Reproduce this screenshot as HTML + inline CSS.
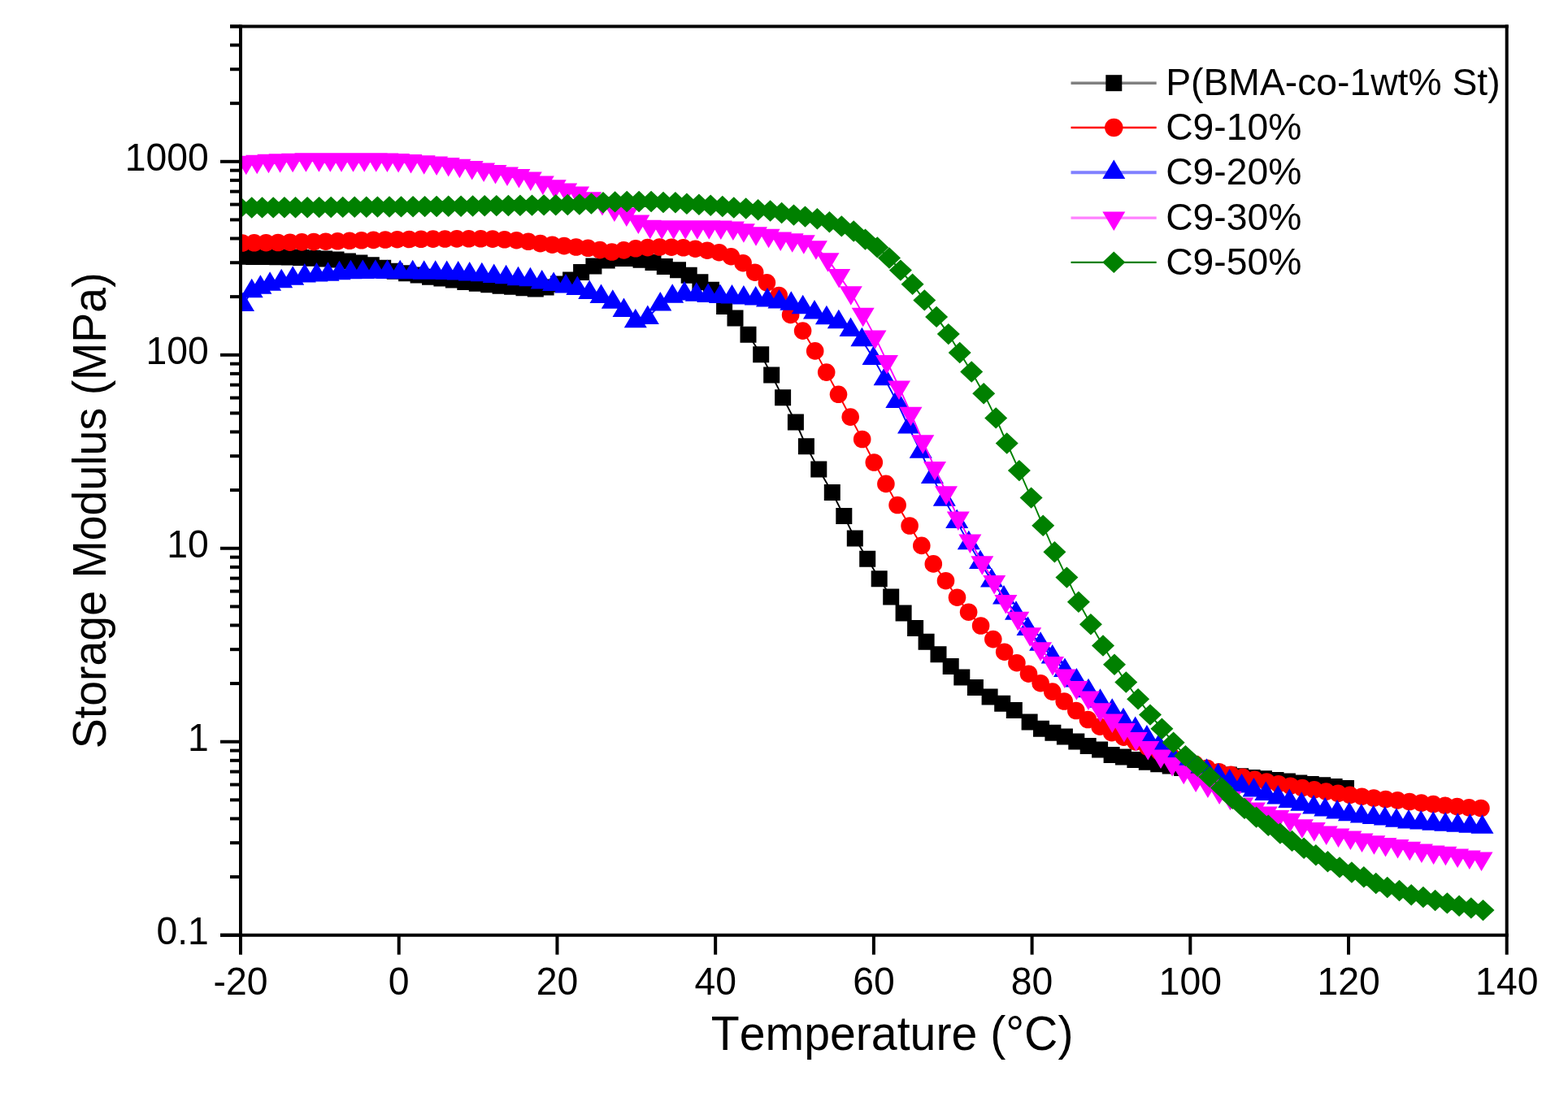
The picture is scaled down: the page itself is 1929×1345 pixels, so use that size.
<!DOCTYPE html>
<html><head><meta charset="utf-8"><title>Storage Modulus vs Temperature</title>
<style>html,body{margin:0;padding:0;background:#fff;overflow:hidden;}svg{display:block;}</style></head>
<body>
<svg width="1929" height="1345" viewBox="0 0 1929 1345">
<rect width="100%" height="100%" fill="#fff"/>
<defs><clipPath id="pc"><rect x="296" y="32.46" width="1557.70" height="1118.26"/></clipPath></defs>
<g clip-path="url(#pc)">
<path d="M298,315.8 312.4,315.9 326.9,316.1 341.3,316.3 355.8,316.6 370.2,317.1 384.6,317.7 399.1,318.4 413.5,319.6 427.9,321.4 442.4,323.6 456.8,326.3 471.2,329.8 485.7,333.7 500.1,336.3 514.6,338.6 529,340.7 543.4,342.6 557.9,344.5 572.3,346.9 586.8,348.7 601.2,350.3 615.6,351.7 630.1,352.8 644.5,354.2 658.8,355.6 671.6,353.6 687,349.5 702.1,344.5 715.1,335 730.4,327.5 746.7,320.5 760.5,318 774.5,318 788.5,319.8 803.5,322.9 817.8,327.9 834,332.3 847.7,338.8 861.4,347.2 875,356.8 891.1,376.9 904.5,391.5 920.5,411.7 936.2,436.2 949.2,461.4 963.1,489.2 978.9,519.5 991.9,549.2 1007.3,577.6 1023.8,606 1038.3,635 1051.8,662.6 1067.2,687.7 1081.7,712.3 1096.2,734.5 1111.6,754.5 1126.1,773 1139.6,789.7 1154.5,805.3 1169.7,819.9 1183.3,833.4 1199.9,845.9 1217.6,857.4 1233.2,865.7 1247.8,874 1266.6,888.6 1281,896.8 1295.4,901.8 1309.9,906.4 1324.3,912.4 1338.7,918.1 1353.1,922.6 1367.6,928.9 1382,931.4 1396.4,934.9 1410.8,937.8 1425.2,940.2 1439.7,942.6 1454.1,945 1468.5,947.3 1482.9,949.4 1497.4,951.5 1511.8,953.4 1526.2,955.2 1540.6,956.9 1555,958.3 1569.5,959.9 1583.9,961.6 1598.3,963.4 1612.7,964.9 1627.2,966.3 1641.6,968 1656,970" fill="none" stroke="#000000" stroke-width="1.9"/>
<path fill="#000000" d="M288,305.8h20v20h-20zM302.4,305.9h20v20h-20zM316.9,306.1h20v20h-20zM331.3,306.3h20v20h-20zM345.8,306.6h20v20h-20zM360.2,307.1h20v20h-20zM374.6,307.7h20v20h-20zM389.1,308.4h20v20h-20zM403.5,309.6h20v20h-20zM417.9,311.4h20v20h-20zM432.4,313.6h20v20h-20zM446.8,316.3h20v20h-20zM461.2,319.8h20v20h-20zM475.7,323.7h20v20h-20zM490.1,326.3h20v20h-20zM504.6,328.6h20v20h-20zM519,330.7h20v20h-20zM533.4,332.6h20v20h-20zM547.9,334.5h20v20h-20zM562.3,336.9h20v20h-20zM576.8,338.7h20v20h-20zM591.2,340.3h20v20h-20zM605.6,341.7h20v20h-20zM620.1,342.8h20v20h-20zM634.5,344.2h20v20h-20zM648.8,345.6h20v20h-20zM661.6,343.6h20v20h-20zM677,339.5h20v20h-20zM692.1,334.5h20v20h-20zM705.1,325h20v20h-20zM720.4,317.5h20v20h-20zM736.7,310.5h20v20h-20zM750.5,308h20v20h-20zM764.5,308h20v20h-20zM778.5,309.8h20v20h-20zM793.5,312.9h20v20h-20zM807.8,317.9h20v20h-20zM824,322.3h20v20h-20zM837.7,328.8h20v20h-20zM851.4,337.2h20v20h-20zM865,346.8h20v20h-20zM881.1,366.9h20v20h-20zM894.5,381.5h20v20h-20zM910.5,401.7h20v20h-20zM926.2,426.2h20v20h-20zM939.2,451.4h20v20h-20zM953.1,479.2h20v20h-20zM968.9,509.5h20v20h-20zM981.9,539.2h20v20h-20zM997.3,567.6h20v20h-20zM1013.8,596h20v20h-20zM1028.3,625h20v20h-20zM1041.8,652.6h20v20h-20zM1057.2,677.7h20v20h-20zM1071.7,702.3h20v20h-20zM1086.2,724.5h20v20h-20zM1101.6,744.5h20v20h-20zM1116.1,763h20v20h-20zM1129.6,779.7h20v20h-20zM1144.5,795.3h20v20h-20zM1159.7,809.9h20v20h-20zM1173.3,823.4h20v20h-20zM1189.9,835.9h20v20h-20zM1207.6,847.4h20v20h-20zM1223.2,855.7h20v20h-20zM1237.8,864h20v20h-20zM1256.6,878.6h20v20h-20zM1271,886.8h20v20h-20zM1285.4,891.8h20v20h-20zM1299.9,896.4h20v20h-20zM1314.3,902.4h20v20h-20zM1328.7,908.1h20v20h-20zM1343.1,912.6h20v20h-20zM1357.6,918.9h20v20h-20zM1372,921.4h20v20h-20zM1386.4,924.9h20v20h-20zM1400.8,927.8h20v20h-20zM1415.2,930.2h20v20h-20zM1429.7,932.6h20v20h-20zM1444.1,935h20v20h-20zM1458.5,937.3h20v20h-20zM1472.9,939.4h20v20h-20zM1487.4,941.5h20v20h-20zM1501.8,943.4h20v20h-20zM1516.2,945.2h20v20h-20zM1530.6,946.9h20v20h-20zM1545,948.3h20v20h-20zM1559.5,949.9h20v20h-20zM1573.9,951.6h20v20h-20zM1588.3,953.4h20v20h-20zM1602.7,954.9h20v20h-20zM1617.2,956.3h20v20h-20zM1631.6,958h20v20h-20zM1646,960h20v20h-20z"/>
<path d="M298,299 312.7,298.8 327.3,298.7 342,298.5 356.7,298.2 371.3,297.9 386,297.6 400.7,297.2 415.3,296.8 430,296.3 444.7,295.8 459.4,295.4 474,295 488.7,294.7 503.4,294.5 518,294.3 532.7,294.1 547.4,294 562,293.9 576.7,293.8 591.4,293.8 606,294.1 620.7,294.8 635.4,295.7 650,297.3 664.7,299.6 679.4,301.2 694,302.6 708.7,304 723.4,305.3 738,307.6 752.7,310 767.4,307.9 782,305.8 796.7,304.6 811.4,304 826.1,304.2 840.7,304.8 855.4,306.2 870.1,308.2 884.7,310.7 899.4,315.7 914.1,323.7 928.7,335.2 943.4,347.8 958.2,363.5 972.6,387.4 987.6,407.1 1002.7,431.9 1016.7,458.1 1031.5,485.3 1046.2,513.1 1060.7,540.5 1075.3,569 1089.9,595.4 1104.1,621.5 1119.1,647 1133.8,671.4 1148.3,693.9 1163.5,714.7 1177.5,735.2 1191.6,753.2 1206.6,770 1221.8,786.6 1235.7,802.2 1250.9,815.7 1265.5,829.2 1280.1,840.7 1294.7,851.1 1309.2,863 1323.8,874.5 1338.4,885.5 1353.1,894.2 1367.7,901.7 1382.4,907.2 1397,912.9 1411.7,919.1 1426.3,924.9 1441,930.3 1455.6,935.5 1470.3,940.4 1484.9,945.2 1499.6,949.7 1514.2,953.3 1528.9,956.4 1543.5,959.3 1558.2,962 1572.8,964.7 1587.5,967.2 1602.1,969.6 1616.8,971.9 1631.4,974.1 1646.1,976.3 1660.7,978.3 1675.4,980.2 1690,982 1704.7,983.5 1719.3,984.9 1734,986.5 1748.6,988.1 1763.3,989.6 1777.9,991.2 1792.6,992.6 1807.2,993.8 1821.9,994.5" fill="none" stroke="#ff0000" stroke-width="1.9"/>
<g fill="#ff0000"><circle cx="298" cy="299" r="10.8"/><circle cx="312.7" cy="298.8" r="10.8"/><circle cx="327.3" cy="298.7" r="10.8"/><circle cx="342" cy="298.5" r="10.8"/><circle cx="356.7" cy="298.2" r="10.8"/><circle cx="371.3" cy="297.9" r="10.8"/><circle cx="386" cy="297.6" r="10.8"/><circle cx="400.7" cy="297.2" r="10.8"/><circle cx="415.3" cy="296.8" r="10.8"/><circle cx="430" cy="296.3" r="10.8"/><circle cx="444.7" cy="295.8" r="10.8"/><circle cx="459.4" cy="295.4" r="10.8"/><circle cx="474" cy="295" r="10.8"/><circle cx="488.7" cy="294.7" r="10.8"/><circle cx="503.4" cy="294.5" r="10.8"/><circle cx="518" cy="294.3" r="10.8"/><circle cx="532.7" cy="294.1" r="10.8"/><circle cx="547.4" cy="294" r="10.8"/><circle cx="562" cy="293.9" r="10.8"/><circle cx="576.7" cy="293.8" r="10.8"/><circle cx="591.4" cy="293.8" r="10.8"/><circle cx="606" cy="294.1" r="10.8"/><circle cx="620.7" cy="294.8" r="10.8"/><circle cx="635.4" cy="295.7" r="10.8"/><circle cx="650" cy="297.3" r="10.8"/><circle cx="664.7" cy="299.6" r="10.8"/><circle cx="679.4" cy="301.2" r="10.8"/><circle cx="694" cy="302.6" r="10.8"/><circle cx="708.7" cy="304" r="10.8"/><circle cx="723.4" cy="305.3" r="10.8"/><circle cx="738" cy="307.6" r="10.8"/><circle cx="752.7" cy="310" r="10.8"/><circle cx="767.4" cy="307.9" r="10.8"/><circle cx="782" cy="305.8" r="10.8"/><circle cx="796.7" cy="304.6" r="10.8"/><circle cx="811.4" cy="304" r="10.8"/><circle cx="826.1" cy="304.2" r="10.8"/><circle cx="840.7" cy="304.8" r="10.8"/><circle cx="855.4" cy="306.2" r="10.8"/><circle cx="870.1" cy="308.2" r="10.8"/><circle cx="884.7" cy="310.7" r="10.8"/><circle cx="899.4" cy="315.7" r="10.8"/><circle cx="914.1" cy="323.7" r="10.8"/><circle cx="928.7" cy="335.2" r="10.8"/><circle cx="943.4" cy="347.8" r="10.8"/><circle cx="958.2" cy="363.5" r="10.8"/><circle cx="972.6" cy="387.4" r="10.8"/><circle cx="987.6" cy="407.1" r="10.8"/><circle cx="1002.7" cy="431.9" r="10.8"/><circle cx="1016.7" cy="458.1" r="10.8"/><circle cx="1031.5" cy="485.3" r="10.8"/><circle cx="1046.2" cy="513.1" r="10.8"/><circle cx="1060.7" cy="540.5" r="10.8"/><circle cx="1075.3" cy="569" r="10.8"/><circle cx="1089.9" cy="595.4" r="10.8"/><circle cx="1104.1" cy="621.5" r="10.8"/><circle cx="1119.1" cy="647" r="10.8"/><circle cx="1133.8" cy="671.4" r="10.8"/><circle cx="1148.3" cy="693.9" r="10.8"/><circle cx="1163.5" cy="714.7" r="10.8"/><circle cx="1177.5" cy="735.2" r="10.8"/><circle cx="1191.6" cy="753.2" r="10.8"/><circle cx="1206.6" cy="770" r="10.8"/><circle cx="1221.8" cy="786.6" r="10.8"/><circle cx="1235.7" cy="802.2" r="10.8"/><circle cx="1250.9" cy="815.7" r="10.8"/><circle cx="1265.5" cy="829.2" r="10.8"/><circle cx="1280.1" cy="840.7" r="10.8"/><circle cx="1294.7" cy="851.1" r="10.8"/><circle cx="1309.2" cy="863" r="10.8"/><circle cx="1323.8" cy="874.5" r="10.8"/><circle cx="1338.4" cy="885.5" r="10.8"/><circle cx="1353.1" cy="894.2" r="10.8"/><circle cx="1367.7" cy="901.7" r="10.8"/><circle cx="1382.4" cy="907.2" r="10.8"/><circle cx="1397" cy="912.9" r="10.8"/><circle cx="1411.7" cy="919.1" r="10.8"/><circle cx="1426.3" cy="924.9" r="10.8"/><circle cx="1441" cy="930.3" r="10.8"/><circle cx="1455.6" cy="935.5" r="10.8"/><circle cx="1470.3" cy="940.4" r="10.8"/><circle cx="1484.9" cy="945.2" r="10.8"/><circle cx="1499.6" cy="949.7" r="10.8"/><circle cx="1514.2" cy="953.3" r="10.8"/><circle cx="1528.9" cy="956.4" r="10.8"/><circle cx="1543.5" cy="959.3" r="10.8"/><circle cx="1558.2" cy="962" r="10.8"/><circle cx="1572.8" cy="964.7" r="10.8"/><circle cx="1587.5" cy="967.2" r="10.8"/><circle cx="1602.1" cy="969.6" r="10.8"/><circle cx="1616.8" cy="971.9" r="10.8"/><circle cx="1631.4" cy="974.1" r="10.8"/><circle cx="1646.1" cy="976.3" r="10.8"/><circle cx="1660.7" cy="978.3" r="10.8"/><circle cx="1675.4" cy="980.2" r="10.8"/><circle cx="1690" cy="982" r="10.8"/><circle cx="1704.7" cy="983.5" r="10.8"/><circle cx="1719.3" cy="984.9" r="10.8"/><circle cx="1734" cy="986.5" r="10.8"/><circle cx="1748.6" cy="988.1" r="10.8"/><circle cx="1763.3" cy="989.6" r="10.8"/><circle cx="1777.9" cy="991.2" r="10.8"/><circle cx="1792.6" cy="992.6" r="10.8"/><circle cx="1807.2" cy="993.8" r="10.8"/><circle cx="1821.9" cy="994.5" r="10.8"/></g>
<path d="M299,375.2 309.7,358.5 320.4,354 332.1,349.9 346.2,346.4 360.2,342.9 374.8,339.7 389.5,338.7 403.5,337.9 417.5,336.4 431.5,335.4 446.3,335.1 461.9,335 476.6,335.3 492.2,335.4 507.7,335.4 521.7,336 535.7,336 549.7,336.2 563.7,336.7 577.7,337.7 592.8,338.5 607.7,340.2 622.6,341.5 637.5,343.5 652.4,344.5 666.7,347.5 681.1,350.1 696,352.6 710.3,355.2 725.2,360.1 739.5,365.3 753.8,371.9 767.5,382.1 781.8,395.5 796.8,391.1 812.3,374.8 827.2,364.9 842,361.8 856.8,363 871.2,364.2 886,365.2 900.5,365.7 914.9,366.6 929.7,367.6 944,369.8 958.5,371.7 973.3,374 987.7,378.5 1002,384.7 1016.9,391.4 1031.8,396.5 1046.5,406.3 1060.4,418.5 1074.5,441 1088.6,466.4 1103.3,494.2 1118,525.8 1132.7,556 1146.9,587.1 1161.8,614.9 1177.2,642.1 1191.8,668.4 1206,692.2 1220,714.8 1235,735.6 1250,755 1264.5,774.3 1280.1,793 1294.7,808.6 1310,825.2 1324.4,837.8 1339,850.4 1353.5,862.9 1368.2,875 1382,886.5 1396.7,897.2 1410.9,907.7 1425.6,918.4 1440.3,928.2 1455.1,936 1469.8,942.9 1484.5,949 1498.6,954.8 1512.7,961.6 1527.6,967.6 1542.5,972.8 1557.3,977.3 1572.2,981.7 1586.3,986.2 1601.2,989.9 1616.1,993.6 1630.2,996.6 1645.1,999.6 1659.9,1002.5 1674.8,1004.8 1689.7,1006.2 1703.8,1007.7 1717.9,1010 1733,1011.5 1748.1,1012.7 1763.2,1013.9 1778.2,1014.9 1793.3,1015.9 1808.4,1016.9 1823.5,1018" fill="none" stroke="#0000ff" stroke-width="1.9"/>
<path fill="#0000ff" d="M299,359.5L313,383H285zM309.7,342.8L323.7,366.3H295.7zM320.4,338.3L334.4,361.8H306.4zM332.1,334.2L346.1,357.7H318.1zM346.2,330.7L360.2,354.2H332.2zM360.2,327.2L374.2,350.7H346.2zM374.8,324.1L388.8,347.6H360.8zM389.5,323L403.5,346.5H375.5zM403.5,322.3L417.5,345.8H389.5zM417.5,320.8L431.5,344.3H403.5zM431.5,319.8L445.5,343.3H417.5zM446.3,319.4L460.3,342.9H432.3zM461.9,319.3L475.9,342.8H447.9zM476.6,319.6L490.6,343.1H462.6zM492.2,319.7L506.2,343.2H478.2zM507.7,319.7L521.7,343.2H493.7zM521.7,320.3L535.7,343.8H507.7zM535.7,320.3L549.7,343.8H521.7zM549.7,320.5L563.7,344H535.7zM563.7,321L577.7,344.5H549.7zM577.7,322.1L591.7,345.6H563.7zM592.8,322.8L606.8,346.3H578.8zM607.7,324.5L621.7,348H593.7zM622.6,325.8L636.6,349.3H608.6zM637.5,327.8L651.5,351.3H623.5zM652.4,328.8L666.4,352.3H638.4zM666.7,331.9L680.7,355.4H652.7zM681.1,334.5L695.1,358H667.1zM696,336.9L710,360.4H682zM710.3,339.5L724.3,363H696.3zM725.2,344.4L739.2,367.9H711.2zM739.5,349.6L753.5,373.1H725.5zM753.8,356.2L767.8,379.7H739.8zM767.5,366.4L781.5,389.9H753.5zM781.8,379.8L795.8,403.3H767.8zM796.8,375.4L810.8,398.9H782.8zM812.3,359.1L826.3,382.6H798.3zM827.2,349.3L841.2,372.8H813.2zM842,346.1L856,369.6H828zM856.8,347.3L870.8,370.8H842.8zM871.2,348.5L885.2,372H857.2zM886,349.5L900,373H872zM900.5,350L914.5,373.5H886.5zM914.9,350.9L928.9,374.4H900.9zM929.7,351.9L943.7,375.4H915.7zM944,354.1L958,377.6H930zM958.5,356L972.5,379.5H944.5zM973.3,358.3L987.3,381.8H959.3zM987.7,362.8L1001.7,386.3H973.7zM1002,369L1016,392.5H988zM1016.9,375.7L1030.9,399.2H1002.9zM1031.8,380.8L1045.8,404.3H1017.8zM1046.5,390.6L1060.5,414.1H1032.5zM1060.4,402.8L1074.4,426.3H1046.4zM1074.5,425.4L1088.5,448.9H1060.5zM1088.6,450.8L1102.6,474.3H1074.6zM1103.3,478.5L1117.3,502H1089.3zM1118,510.1L1132,533.6H1104zM1132.7,540.3L1146.7,563.8H1118.7zM1146.9,571.4L1160.9,594.9H1132.9zM1161.8,599.2L1175.8,622.7H1147.8zM1177.2,626.4L1191.2,649.9H1163.2zM1191.8,652.7L1205.8,676.2H1177.8zM1206,676.5L1220,700H1192zM1220,699.1L1234,722.6H1206zM1235,719.9L1249,743.4H1221zM1250,739.3L1264,762.8H1236zM1264.5,758.6L1278.5,782.1H1250.5zM1280.1,777.3L1294.1,800.8H1266.1zM1294.7,792.9L1308.7,816.4H1280.7zM1310,809.5L1324,833H1296zM1324.4,822.1L1338.4,845.6H1310.4zM1339,834.7L1353,858.2H1325zM1353.5,847.2L1367.5,870.7H1339.5zM1368.2,859.3L1382.2,882.8H1354.2zM1382,870.8L1396,894.3H1368zM1396.7,881.5L1410.7,905H1382.7zM1410.9,892L1424.9,915.5H1396.9zM1425.6,902.8L1439.6,926.3H1411.6zM1440.3,912.5L1454.3,936H1426.3zM1455.1,920.4L1469.1,943.9H1441.1zM1469.8,927.2L1483.8,950.7H1455.8zM1484.5,933.3L1498.5,956.8H1470.5zM1498.6,939.1L1512.6,962.6H1484.6zM1512.7,945.9L1526.7,969.4H1498.7zM1527.6,951.9L1541.6,975.4H1513.6zM1542.5,957.1L1556.5,980.6H1528.5zM1557.3,961.6L1571.3,985.1H1543.3zM1572.2,966L1586.2,989.5H1558.2zM1586.3,970.5L1600.3,994H1572.3zM1601.2,974.2L1615.2,997.7H1587.2zM1616.1,977.9L1630.1,1001.4H1602.1zM1630.2,980.9L1644.2,1004.4H1616.2zM1645.1,983.9L1659.1,1007.4H1631.1zM1659.9,986.8L1673.9,1010.3H1645.9zM1674.8,989.1L1688.8,1012.6H1660.8zM1689.7,990.5L1703.7,1014H1675.7zM1703.8,992L1717.8,1015.5H1689.8zM1717.9,994.3L1731.9,1017.8H1703.9zM1733,995.9L1747,1019.4H1719zM1748.1,997.1L1762.1,1020.6H1734.1zM1763.2,998.2L1777.2,1021.7H1749.2zM1778.2,999.2L1792.2,1022.7H1764.2zM1793.3,1000.2L1807.3,1023.7H1779.3zM1808.4,1001.2L1822.4,1024.7H1794.4zM1823.5,1002.3L1837.5,1025.8H1809.5z"/>
<path d="M290,200.5 302.8,199.5 316.2,198.5 330.4,197.6 344.6,197 360.1,196.5 376.4,196.1 392.4,196 406.3,196 420,196 434.5,196 448.2,196 462.7,196 476.4,196.2 490.1,196.9 505.5,197.9 521.7,199.1 537.1,200.4 551.7,202 565.4,203.6 580.7,205.8 595.1,208.2 609.5,210.8 624,213.3 638.4,215.9 652.8,219.2 667.8,224.4 682.7,229 696.2,233.2 711.1,237.4 726.1,244 741,249.8 755.9,257.3 770.8,263.4 785.3,272.5 799.8,278.5 814.2,279 828.7,279 843.2,279 857.8,279 872.3,279 886.8,279.3 901.9,280.4 914.9,283 930,287.1 945.6,289.5 960.2,293.4 974.7,295 988.8,297 1003.9,304 1018.5,319.1 1032.2,338.8 1046.8,360.1 1061.7,386.6 1076.5,414.4 1091,444.7 1106,476.2 1120.5,508.6 1135.3,543 1150,575.7 1164,606 1178.8,637.4 1193.4,665.4 1208.3,692.1 1223.2,715.9 1237.4,739.7 1252.3,760.5 1267.2,780.1 1280.1,798 1295,815.7 1309.8,831.3 1324.4,845.9 1339,858.4 1353.6,873 1368.3,886.2 1382.9,898 1397.6,908.7 1412.3,919.8 1428,930.2 1442.1,939.8 1456.2,949.5 1471.1,959.2 1485.9,966.4 1500.1,974.2 1513.5,981.6 1528.2,989.2 1542.9,995.2 1557.7,1000.3 1572.4,1004.8 1587.1,1008.6 1601.9,1016.1 1616.8,1019.8 1631.7,1024.2 1646.5,1027.2 1661.4,1030.2 1675.5,1033.2 1690.4,1036.1 1704.5,1038.9 1719.5,1040.9 1734.2,1043.6 1748.9,1046.3 1763.6,1048.3 1778.4,1049.6 1793.1,1052.3 1807.8,1054.3 1822.5,1056.3" fill="none" stroke="#ff00ff" stroke-width="1.9"/>
<path fill="#ff00ff" d="M290,216.2L304,192.7H276zM302.8,215.2L316.8,191.7H288.8zM316.2,214.2L330.2,190.7H302.2zM330.4,213.3L344.4,189.8H316.4zM344.6,212.7L358.6,189.2H330.6zM360.1,212.2L374.1,188.7H346.1zM376.4,211.8L390.4,188.3H362.4zM392.4,211.7L406.4,188.2H378.4zM406.3,211.7L420.3,188.2H392.3zM420,211.7L434,188.2H406zM434.5,211.7L448.5,188.2H420.5zM448.2,211.7L462.2,188.2H434.2zM462.7,211.7L476.7,188.2H448.7zM476.4,211.9L490.4,188.4H462.4zM490.1,212.6L504.1,189.1H476.1zM505.5,213.6L519.5,190.1H491.5zM521.7,214.7L535.7,191.2H507.7zM537.1,216.1L551.1,192.6H523.1zM551.7,217.6L565.7,194.1H537.7zM565.4,219.3L579.4,195.8H551.4zM580.7,221.5L594.7,198H566.7zM595.1,223.9L609.1,200.4H581.1zM609.5,226.5L623.5,203H595.5zM624,229L638,205.5H610zM638.4,231.6L652.4,208.1H624.4zM652.8,234.9L666.8,211.4H638.8zM667.8,240.1L681.8,216.6H653.8zM682.7,244.7L696.7,221.2H668.7zM696.2,248.9L710.2,225.4H682.2zM711.1,253.1L725.1,229.6H697.1zM726.1,259.7L740.1,236.2H712.1zM741,265.5L755,242H727zM755.9,273L769.9,249.5H741.9zM770.8,279.1L784.8,255.6H756.8zM785.3,288.1L799.3,264.6H771.3zM799.8,294.2L813.8,270.7H785.8zM814.2,294.7L828.2,271.2H800.2zM828.7,294.7L842.7,271.2H814.7zM843.2,294.7L857.2,271.2H829.2zM857.8,294.7L871.8,271.2H843.8zM872.3,294.7L886.3,271.2H858.3zM886.8,295L900.8,271.5H872.8zM901.9,296.1L915.9,272.6H887.9zM914.9,298.7L928.9,275.2H900.9zM930,302.8L944,279.3H916zM945.6,305.2L959.6,281.7H931.6zM960.2,309.1L974.2,285.6H946.2zM974.7,310.7L988.7,287.2H960.7zM988.8,312.7L1002.8,289.2H974.8zM1003.9,319.7L1017.9,296.2H989.9zM1018.5,334.8L1032.5,311.3H1004.5zM1032.2,354.4L1046.2,330.9H1018.2zM1046.8,375.7L1060.8,352.2H1032.8zM1061.7,402.3L1075.7,378.8H1047.7zM1076.5,430.1L1090.5,406.6H1062.5zM1091,460.4L1105,436.9H1077zM1106,491.9L1120,468.4H1092zM1120.5,524.3L1134.5,500.8H1106.5zM1135.3,558.7L1149.3,535.2H1121.3zM1150,591.4L1164,567.9H1136zM1164,621.7L1178,598.2H1150zM1178.8,653.1L1192.8,629.6H1164.8zM1193.4,681.1L1207.4,657.6H1179.4zM1208.3,707.8L1222.3,684.3H1194.3zM1223.2,731.6L1237.2,708.1H1209.2zM1237.4,755.4L1251.4,731.9H1223.4zM1252.3,776.2L1266.3,752.7H1238.3zM1267.2,795.8L1281.2,772.3H1253.2zM1280.1,813.7L1294.1,790.2H1266.1zM1295,831.4L1309,807.9H1281zM1309.8,847L1323.8,823.5H1295.8zM1324.4,861.6L1338.4,838.1H1310.4zM1339,874.1L1353,850.6H1325zM1353.6,888.7L1367.6,865.2H1339.6zM1368.3,901.9L1382.3,878.4H1354.3zM1382.9,913.6L1396.9,890.1H1368.9zM1397.6,924.4L1411.6,900.9H1383.6zM1412.3,935.5L1426.3,912H1398.3zM1428,945.9L1442,922.4H1414zM1442.1,955.5L1456.1,932H1428.1zM1456.2,965.2L1470.2,941.7H1442.2zM1471.1,974.9L1485.1,951.4H1457.1zM1485.9,982.1L1499.9,958.6H1471.9zM1500.1,989.9L1514.1,966.4H1486.1zM1513.5,997.3L1527.5,973.8H1499.5zM1528.2,1004.9L1542.2,981.4H1514.2zM1542.9,1010.9L1556.9,987.4H1528.9zM1557.7,1015.9L1571.7,992.4H1543.7zM1572.4,1020.5L1586.4,997H1558.4zM1587.1,1024.3L1601.1,1000.8H1573.1zM1601.9,1031.8L1615.9,1008.3H1587.9zM1616.8,1035.5L1630.8,1012H1602.8zM1631.7,1039.9L1645.7,1016.4H1617.7zM1646.5,1042.9L1660.5,1019.4H1632.5zM1661.4,1045.9L1675.4,1022.4H1647.4zM1675.5,1048.9L1689.5,1025.4H1661.5zM1690.4,1051.8L1704.4,1028.3H1676.4zM1704.5,1054.5L1718.5,1031H1690.5zM1719.5,1056.6L1733.5,1033.1H1705.5zM1734.2,1059.3L1748.2,1035.8H1720.2zM1748.9,1062L1762.9,1038.5H1734.9zM1763.6,1064L1777.6,1040.5H1749.6zM1778.4,1065.3L1792.4,1041.8H1764.4zM1793.1,1068L1807.1,1044.5H1779.1zM1807.8,1070L1821.8,1046.5H1793.8zM1822.5,1072L1836.5,1048.5H1808.5z"/>
<path d="M296,255.5 309.7,255.5 322.5,255.4 336.2,255.4 349.9,255.3 363.5,255.2 378.1,255.2 392.6,255.1 407.2,255 421.7,254.9 436.2,254.8 450.8,254.7 464.4,254.6 479,254.5 493.5,254.4 508.1,254.3 522.6,254.1 537.1,254 551.7,253.8 567.1,253.7 581.6,253.5 596.2,253.3 610.8,253.1 625.4,253 639.9,252.8 654.5,252.6 669.1,252.4 683.7,252.3 698.3,252 712.9,251.5 727.4,250.5 742,249.3 756.6,248.4 771.2,248 786.1,248 801.1,248 816,249 830.9,249.2 844.9,250.8 859.9,251.8 874.2,252.7 888.8,254 902.8,255.5 917.7,256.5 932.6,258.3 947.6,259.5 961.6,262 976.5,264.6 990.5,266.6 1005.4,269.3 1020.4,273.2 1035.3,278.4 1050.2,284.5 1064.5,294.6 1079.3,304.4 1094,317.5 1107.9,332.6 1122.6,349.8 1137.3,369.4 1152.1,389.9 1166.8,411.1 1180.7,434 1195.2,457.5 1210.2,484.2 1225.2,514.4 1238.7,545.5 1253.9,579.1 1268.6,612.6 1283.2,646.8 1297.4,679.3 1312.4,710.6 1326.9,740.8 1341.9,768.2 1357,794.5 1371,817.8 1385.3,839.5 1400.1,860.2 1415,879.6 1429.4,896.7 1443.6,913.8 1458.4,930.1 1473.3,942.8 1488.2,956.1 1503,969.5 1516.4,982.9 1531,994.9 1545.6,1005.6 1560.3,1015.8 1574.9,1025.6 1589.5,1034.9 1604.1,1043.8 1618.8,1052.2 1633.4,1060.2 1648,1067.4 1662.9,1073.5 1677.8,1079.2 1692.7,1087 1706.7,1092 1721.5,1096 1736.2,1101.3 1750.9,1104 1765.6,1108 1780.4,1111.4 1795.1,1114.7 1809.8,1117.4 1824.5,1120.1" fill="none" stroke="#008000" stroke-width="1.9"/>
<path fill="#008000" d="M296,242.3L310,255.5L296,268.7L282,255.5zM309.7,242.3L323.7,255.5L309.7,268.7L295.7,255.5zM322.5,242.2L336.5,255.4L322.5,268.6L308.5,255.4zM336.2,242.2L350.2,255.4L336.2,268.6L322.2,255.4zM349.9,242.1L363.9,255.3L349.9,268.5L335.9,255.3zM363.5,242L377.5,255.2L363.5,268.4L349.5,255.2zM378.1,242L392.1,255.2L378.1,268.4L364.1,255.2zM392.6,241.9L406.6,255.1L392.6,268.3L378.6,255.1zM407.2,241.8L421.2,255L407.2,268.2L393.2,255zM421.7,241.7L435.7,254.9L421.7,268.1L407.7,254.9zM436.2,241.6L450.2,254.8L436.2,268L422.2,254.8zM450.8,241.5L464.8,254.7L450.8,267.9L436.8,254.7zM464.4,241.4L478.4,254.6L464.4,267.8L450.4,254.6zM479,241.3L493,254.5L479,267.7L465,254.5zM493.5,241.2L507.5,254.4L493.5,267.6L479.5,254.4zM508.1,241.1L522.1,254.3L508.1,267.5L494.1,254.3zM522.6,240.9L536.6,254.1L522.6,267.3L508.6,254.1zM537.1,240.8L551.1,254L537.1,267.2L523.1,254zM551.7,240.6L565.7,253.8L551.7,267L537.7,253.8zM567.1,240.5L581.1,253.7L567.1,266.9L553.1,253.7zM581.6,240.3L595.6,253.5L581.6,266.7L567.6,253.5zM596.2,240.1L610.2,253.3L596.2,266.5L582.2,253.3zM610.8,239.9L624.8,253.1L610.8,266.3L596.8,253.1zM625.4,239.8L639.4,253L625.4,266.2L611.4,253zM639.9,239.6L653.9,252.8L639.9,266L625.9,252.8zM654.5,239.4L668.5,252.6L654.5,265.8L640.5,252.6zM669.1,239.2L683.1,252.4L669.1,265.6L655.1,252.4zM683.7,239.1L697.7,252.3L683.7,265.5L669.7,252.3zM698.3,238.8L712.3,252L698.3,265.2L684.3,252zM712.9,238.3L726.9,251.5L712.9,264.7L698.9,251.5zM727.4,237.3L741.4,250.5L727.4,263.7L713.4,250.5zM742,236.1L756,249.3L742,262.5L728,249.3zM756.6,235.2L770.6,248.4L756.6,261.6L742.6,248.4zM771.2,234.8L785.2,248L771.2,261.2L757.2,248zM786.1,234.8L800.1,248L786.1,261.2L772.1,248zM801.1,234.8L815.1,248L801.1,261.2L787.1,248zM816,235.8L830,249L816,262.2L802,249zM830.9,236L844.9,249.2L830.9,262.4L816.9,249.2zM844.9,237.6L858.9,250.8L844.9,264L830.9,250.8zM859.9,238.6L873.9,251.8L859.9,265L845.9,251.8zM874.2,239.5L888.2,252.7L874.2,265.9L860.2,252.7zM888.8,240.8L902.8,254L888.8,267.2L874.8,254zM902.8,242.3L916.8,255.5L902.8,268.7L888.8,255.5zM917.7,243.3L931.7,256.5L917.7,269.7L903.7,256.5zM932.6,245.1L946.6,258.3L932.6,271.5L918.6,258.3zM947.6,246.3L961.6,259.5L947.6,272.7L933.6,259.5zM961.6,248.8L975.6,262L961.6,275.2L947.6,262zM976.5,251.4L990.5,264.6L976.5,277.8L962.5,264.6zM990.5,253.4L1004.5,266.6L990.5,279.8L976.5,266.6zM1005.4,256.1L1019.4,269.3L1005.4,282.5L991.4,269.3zM1020.4,260L1034.4,273.2L1020.4,286.4L1006.4,273.2zM1035.3,265.2L1049.3,278.4L1035.3,291.6L1021.3,278.4zM1050.2,271.3L1064.2,284.5L1050.2,297.7L1036.2,284.5zM1064.5,281.4L1078.5,294.6L1064.5,307.8L1050.5,294.6zM1079.3,291.2L1093.3,304.4L1079.3,317.6L1065.3,304.4zM1094,304.3L1108,317.5L1094,330.7L1080,317.5zM1107.9,319.4L1121.9,332.6L1107.9,345.8L1093.9,332.6zM1122.6,336.6L1136.6,349.8L1122.6,363L1108.6,349.8zM1137.3,356.2L1151.3,369.4L1137.3,382.6L1123.3,369.4zM1152.1,376.7L1166.1,389.9L1152.1,403.1L1138.1,389.9zM1166.8,397.9L1180.8,411.1L1166.8,424.3L1152.8,411.1zM1180.7,420.8L1194.7,434L1180.7,447.2L1166.7,434zM1195.2,444.3L1209.2,457.5L1195.2,470.7L1181.2,457.5zM1210.2,471L1224.2,484.2L1210.2,497.4L1196.2,484.2zM1225.2,501.2L1239.2,514.4L1225.2,527.6L1211.2,514.4zM1238.7,532.3L1252.7,545.5L1238.7,558.7L1224.7,545.5zM1253.9,565.9L1267.9,579.1L1253.9,592.3L1239.9,579.1zM1268.6,599.4L1282.6,612.6L1268.6,625.8L1254.6,612.6zM1283.2,633.6L1297.2,646.8L1283.2,660L1269.2,646.8zM1297.4,666.1L1311.4,679.3L1297.4,692.5L1283.4,679.3zM1312.4,697.4L1326.4,710.6L1312.4,723.8L1298.4,710.6zM1326.9,727.6L1340.9,740.8L1326.9,754L1312.9,740.8zM1341.9,755L1355.9,768.2L1341.9,781.4L1327.9,768.2zM1357,781.3L1371,794.5L1357,807.7L1343,794.5zM1371,804.6L1385,817.8L1371,831L1357,817.8zM1385.3,826.3L1399.3,839.5L1385.3,852.7L1371.3,839.5zM1400.1,847L1414.1,860.2L1400.1,873.4L1386.1,860.2zM1415,866.4L1429,879.6L1415,892.8L1401,879.6zM1429.4,883.5L1443.4,896.7L1429.4,909.9L1415.4,896.7zM1443.6,900.6L1457.6,913.8L1443.6,927L1429.6,913.8zM1458.4,916.9L1472.4,930.1L1458.4,943.3L1444.4,930.1zM1473.3,929.6L1487.3,942.8L1473.3,956L1459.3,942.8zM1488.2,942.9L1502.2,956.1L1488.2,969.3L1474.2,956.1zM1503,956.3L1517,969.5L1503,982.7L1489,969.5zM1516.4,969.7L1530.4,982.9L1516.4,996.1L1502.4,982.9zM1531,981.7L1545,994.9L1531,1008.1L1517,994.9zM1545.6,992.4L1559.6,1005.6L1545.6,1018.8L1531.6,1005.6zM1560.3,1002.6L1574.3,1015.8L1560.3,1029L1546.3,1015.8zM1574.9,1012.4L1588.9,1025.6L1574.9,1038.8L1560.9,1025.6zM1589.5,1021.7L1603.5,1034.9L1589.5,1048.1L1575.5,1034.9zM1604.1,1030.6L1618.1,1043.8L1604.1,1057L1590.1,1043.8zM1618.8,1039L1632.8,1052.2L1618.8,1065.4L1604.8,1052.2zM1633.4,1047L1647.4,1060.2L1633.4,1073.4L1619.4,1060.2zM1648,1054.2L1662,1067.4L1648,1080.6L1634,1067.4zM1662.9,1060.3L1676.9,1073.5L1662.9,1086.7L1648.9,1073.5zM1677.8,1066L1691.8,1079.2L1677.8,1092.4L1663.8,1079.2zM1692.7,1073.8L1706.7,1087L1692.7,1100.2L1678.7,1087zM1706.7,1078.8L1720.7,1092L1706.7,1105.2L1692.7,1092zM1721.5,1082.8L1735.5,1096L1721.5,1109.2L1707.5,1096zM1736.2,1088.1L1750.2,1101.3L1736.2,1114.5L1722.2,1101.3zM1750.9,1090.8L1764.9,1104L1750.9,1117.2L1736.9,1104zM1765.6,1094.8L1779.6,1108L1765.6,1121.2L1751.6,1108zM1780.4,1098.2L1794.4,1111.4L1780.4,1124.6L1766.4,1111.4zM1795.1,1101.5L1809.1,1114.7L1795.1,1127.9L1781.1,1114.7zM1809.8,1104.2L1823.8,1117.4L1809.8,1130.6L1795.8,1117.4zM1824.5,1106.9L1838.5,1120.1L1824.5,1133.3L1810.5,1120.1z"/>
</g>
<g stroke="#000" stroke-width="4.0" fill="none" stroke-linecap="butt">
<path d="M283,32.46H1855.7"/>
<path d="M271,1150.72H1855.7"/>
<path d="M296,30.46V1174.72"/>
<path d="M1853.7,30.46V1174.72"/>
<path d="M490.72,1150.72V1174.72"/>
<path d="M685.44,1150.72V1174.72"/>
<path d="M880.16,1150.72V1174.72"/>
<path d="M1074.88,1150.72V1174.72"/>
<path d="M1269.60,1150.72V1174.72"/>
<path d="M1464.32,1150.72V1174.72"/>
<path d="M1659.04,1150.72V1174.72"/>
<path d="M271,1150.72H296"/>
<path d="M283,1079.08H296"/>
<path d="M283,1037.17H296"/>
<path d="M283,1007.44H296"/>
<path d="M283,984.38H296"/>
<path d="M283,965.54H296"/>
<path d="M283,949.60H296"/>
<path d="M283,935.80H296"/>
<path d="M283,923.63H296"/>
<path d="M271,912.74H296"/>
<path d="M283,841.10H296"/>
<path d="M283,799.19H296"/>
<path d="M283,769.46H296"/>
<path d="M283,746.40H296"/>
<path d="M283,727.56H296"/>
<path d="M283,711.62H296"/>
<path d="M283,697.82H296"/>
<path d="M283,685.65H296"/>
<path d="M271,674.76H296"/>
<path d="M283,603.12H296"/>
<path d="M283,561.21H296"/>
<path d="M283,531.48H296"/>
<path d="M283,508.42H296"/>
<path d="M283,489.58H296"/>
<path d="M283,473.64H296"/>
<path d="M283,459.84H296"/>
<path d="M283,447.67H296"/>
<path d="M271,436.78H296"/>
<path d="M283,365.14H296"/>
<path d="M283,323.23H296"/>
<path d="M283,293.50H296"/>
<path d="M283,270.44H296"/>
<path d="M283,251.60H296"/>
<path d="M283,235.66H296"/>
<path d="M283,221.86H296"/>
<path d="M283,209.69H296"/>
<path d="M271,198.80H296"/>
<path d="M283,127.16H296"/>
<path d="M283,85.25H296"/>
<path d="M283,55.52H296"/>
<path d="M283,32.46H296"/>
</g>
<g font-family="Liberation Sans, Arial, sans-serif" fill="#000" style="font-kerning:none;font-feature-settings:'kern' 0">
<text transform="translate(296.00,1223.70) scale(0.965,1)" font-size="48.0" text-anchor="middle">-20</text>
<text transform="translate(490.72,1223.70) scale(0.965,1)" font-size="48.0" text-anchor="middle">0</text>
<text transform="translate(685.44,1223.70) scale(0.965,1)" font-size="48.0" text-anchor="middle">20</text>
<text transform="translate(880.16,1223.70) scale(0.965,1)" font-size="48.0" text-anchor="middle">40</text>
<text transform="translate(1074.88,1223.70) scale(0.965,1)" font-size="48.0" text-anchor="middle">60</text>
<text transform="translate(1269.60,1223.70) scale(0.965,1)" font-size="48.0" text-anchor="middle">80</text>
<text transform="translate(1464.32,1223.70) scale(0.965,1)" font-size="48.0" text-anchor="middle">100</text>
<text transform="translate(1659.04,1223.70) scale(0.965,1)" font-size="48.0" text-anchor="middle">120</text>
<text transform="translate(1853.76,1223.70) scale(0.965,1)" font-size="48.0" text-anchor="middle">140</text>
<text transform="translate(256.80,1161.52) scale(0.965,1)" font-size="48.0" text-anchor="end">0.1</text>
<text transform="translate(256.80,923.54) scale(0.965,1)" font-size="48.0" text-anchor="end">1</text>
<text transform="translate(256.80,685.56) scale(0.965,1)" font-size="48.0" text-anchor="end">10</text>
<text transform="translate(256.80,447.58) scale(0.965,1)" font-size="48.0" text-anchor="end">100</text>
<text transform="translate(256.80,209.60) scale(0.965,1)" font-size="48.0" text-anchor="end">1000</text>
<text transform="translate(1097.60,1291.90) scale(0.96,1)" font-size="59.6" text-anchor="middle">Temperature (°C)</text>
<text transform="translate(129.8,628.3) rotate(-90)" x="0" y="0" font-size="57" text-anchor="middle" textLength="586" lengthAdjust="spacingAndGlyphs">Storage Modulus (MPa)</text>
<path d="M1317.5,102.2H1422.7" stroke="#808080" stroke-width="3.6"/>
<path fill="#000" d="M1360.3,92.2h20v20h-20z"/>
<text transform="translate(1434.20,117.00) scale(0.985,1)" font-size="47.0">P(BMA-co-1wt% St)</text>
<path d="M1317.5,157H1422.7" stroke="#ff0000" stroke-width="2.6"/>
<circle cx="1370.3" cy="157" r="11.2" fill="#f00"/>
<text transform="translate(1434.20,171.80) scale(0.985,1)" font-size="47.0">C9-10%</text>
<path d="M1317.5,212.2H1422.7" stroke="#8080ff" stroke-width="4"/>
<path fill="#00f" d="M1370.3,196.5L1384.3,220H1356.3z"/>
<text transform="translate(1434.20,227.00) scale(0.985,1)" font-size="47.0">C9-20%</text>
<path d="M1317.5,268.2H1422.7" stroke="#ff80ff" stroke-width="3.3"/>
<path fill="#f0f" d="M1370.3,283.9L1384.3,260.4H1356.3z"/>
<text transform="translate(1434.20,283.00) scale(0.985,1)" font-size="47.0">C9-30%</text>
<path d="M1317.5,322.8H1422.7" stroke="#008000" stroke-width="2.3"/>
<path fill="#008000" d="M1370.3,309.6L1384.3,322.8L1370.3,336L1356.3,322.8z"/>
<text transform="translate(1434.20,337.60) scale(0.985,1)" font-size="47.0">C9-50%</text>
</g>
</svg>
</body></html>
